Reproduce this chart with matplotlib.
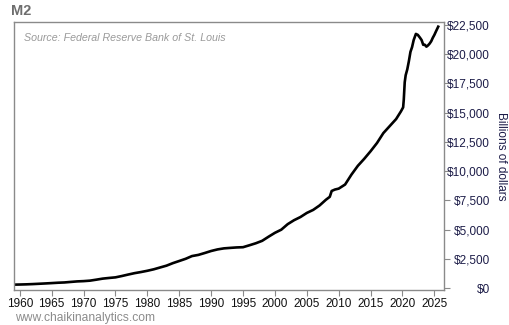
import matplotlib.pyplot as plt
from matplotlib.ticker import FuncFormatter

plt.rcParams['font.family'] = ['Liberation Sans', 'DejaVu Sans']

# M2 money stock, billions of dollars
years = [1959, 1960, 1961, 1962, 1963, 1964, 1965, 1966, 1967, 1968, 1969,
         1970, 1971, 1972, 1973, 1974, 1975, 1976, 1977, 1978, 1979,
         1980, 1981, 1982, 1983, 1984, 1985, 1986, 1987, 1988, 1989,
         1990, 1991, 1992, 1993, 1994, 1995, 1996, 1997, 1998, 1999,
         2000, 2001, 2002, 2003, 2004, 2005, 2006, 2007, 2008, 2008.6,
         2008.9, 2009.4, 2010, 2011, 2012, 2013, 2014, 2015, 2016, 2017, 2018, 2019,
         2019.75, 2020.1, 2020.2, 2020.35, 2020.5, 2020.75, 2021.0, 2021.25,
         2021.5, 2021.75, 2022.1, 2022.4, 2022.75, 2023.0, 2023.25, 2023.5,
         2023.75, 2024.0, 2024.25, 2024.5, 2024.75, 2025.0, 2025.25, 2025.6]
m2 = [286, 298, 313, 335, 362, 390, 420, 452, 475, 521, 565,
      589, 629, 713, 803, 860, 911, 1025, 1152, 1271, 1366,
      1474, 1599, 1756, 1911, 2127, 2311, 2497, 2732, 2832, 2994,
      3166, 3300, 3390, 3432, 3470, 3490, 3655, 3826, 4036, 4386,
      4720, 4990, 5460, 5800, 6070, 6420, 6680, 7060, 7550, 7800,
      8300, 8420, 8500, 8850, 9700, 10450, 11050, 11700, 12400, 13250, 13850, 14450,
      15100, 15450, 16100, 17600, 18200, 18700, 19400, 20200,
      20600, 21200, 21730, 21650, 21400, 21200, 20800, 20800,
      20640, 20750, 20900, 21100, 21400, 21650, 21950, 22350]

xticks = list(range(1960, 2030, 5))
yticks = list(range(0, 25000, 2500))

fig = plt.figure(figsize=(5.1, 3.25), dpi=100)
ax = fig.add_axes([0.0275, 0.1077, 0.843, 0.8246])

ax.plot(years, m2, color='black', lw=1.9, solid_joinstyle='round')

ax.set_xlim(1959.1, 2026.5)
ax.set_ylim(-170, 22750)

ax.set_xticks(xticks)
ax.set_yticks(yticks)
ax.yaxis.tick_right()
ax.yaxis.set_label_position('right')
ax.yaxis.set_major_formatter(FuncFormatter(lambda v, p: '${:,.0f}'.format(v)))

for s in ax.spines.values():
    s.set_color('#8a8a8a')
    s.set_linewidth(1.0)

ax.tick_params(axis='x', direction='out', length=4, color='#8a8a8a',
               labelsize=8.5, labelcolor='#111111', pad=2)
ax.tick_params(axis='y', direction='out', length=4, color='#8a8a8a',
               labelsize=8.5, labelcolor='#1c1c48', pad=29)
for lbl in ax.get_yticklabels():
    lbl.set_horizontalalignment('right')

ax.set_ylabel('Billions of dollars', rotation=270, fontsize=8.5,
              color='#1c1c48', va='center')
ax.yaxis.set_label_coords(1.132, 0.5)

ax.text(0.024, 0.94, 'Source: Federal Reserve Bank of St. Louis',
        transform=ax.transAxes, fontsize=7.7, style='italic', color='#9a9a9a',
        va='center', ha='left')

fig.text(0.022, 0.965, 'M2', fontsize=10.5, fontweight='bold', color='#6e6e6e',
         va='center', ha='left')
fig.text(0.03, 0.022, 'www.chaikinanalytics.com', fontsize=8.7, color='#8c8c8c',
         va='center', ha='left')

fig.savefig('out.png', dpi=100)
